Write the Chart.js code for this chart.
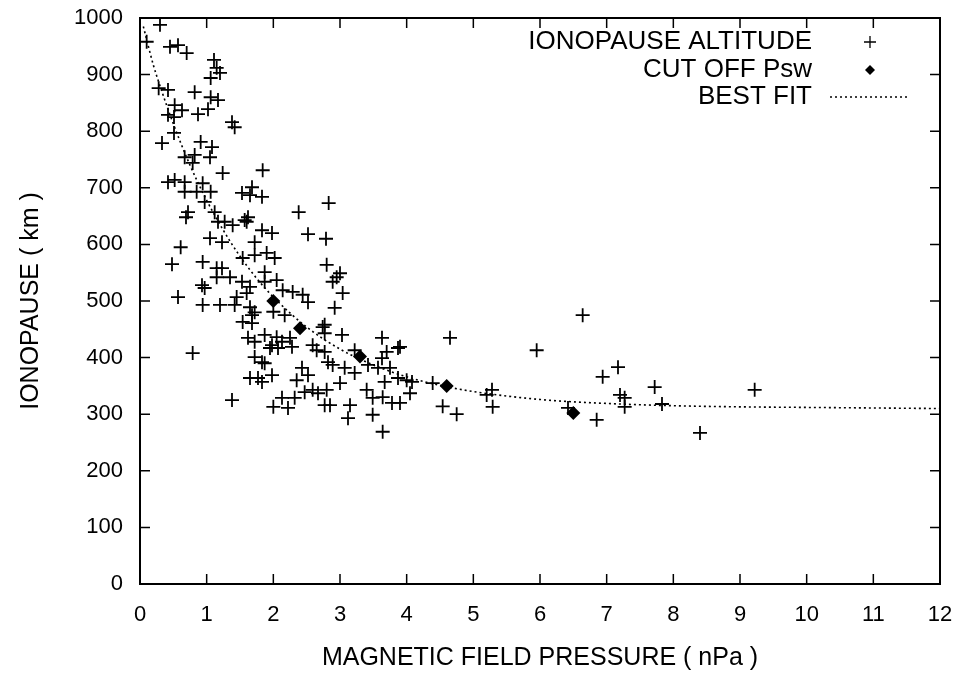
<!DOCTYPE html>
<html>
<head>
<meta charset="utf-8">
<script src="https://cdn.jsdelivr.net/npm/chart.js@4"></script>
<style>
  html, body { margin: 0; padding: 0; background: #fff; }
  canvas { display: block; }
</style>
</head>
<body>
<canvas id="chart" width="967" height="685"></canvas>
<script>
// ionopause altitude (km) vs magnetic field pressure (nPa)
const ionoX = [0.30, 0.10, 0.45, 0.57, 0.70, 1.11, 1.15, 1.20, 1.06, 0.28, 0.42, 0.82, 1.06, 1.17, 0.52, 0.63, 0.42, 0.51, 0.87, 1.02,
  1.38, 1.42, 0.51, 0.33, 0.91, 1.08, 0.67, 0.82, 1.05, 0.79, 1.24, 0.42, 0.52, 0.67, 0.94, 0.67, 0.85, 1.06, 0.97, 0.72,
  0.69, 1.12, 1.17, 1.27, 1.39, 1.60, 1.53, 1.65, 1.68, 1.05, 1.23, 0.61, 0.94, 0.48, 1.15, 1.23, 1.15, 1.35, 1.54, 0.93,
  0.97, 0.57, 1.45, 1.53, 1.65, 0.94, 1.20, 1.42, 1.60, 1.65, 1.72, 1.68, 1.54, 1.68, 1.62, 1.72, 0.79, 1.72, 1.83, 1.65,
  1.77, 1.38, 1.62, 1.83, 1.98, 1.72, 1.72, 1.90, 2.02, 1.87, 1.87, 2.05, 2.14, 2.00, 2.17, 1.87, 2.05, 2.13, 1.98, 1.87,
  1.83, 1.98, 1.84, 1.83, 2.83, 2.38, 1.57, 2.52, 2.79, 2.80, 3.00, 2.95, 2.89, 3.04, 2.29, 2.44, 2.52, 2.92, 2.77, 2.74,
  2.77, 3.03, 3.63, 1.95, 2.07, 2.25, 2.28, 2.59, 2.65, 2.77, 3.22, 3.70, 3.87, 2.82, 2.89, 3.07, 3.22, 3.42, 3.57, 3.63,
  3.75, 2.43, 2.52, 2.35, 3.00, 3.67, 3.87, 2.47, 2.59, 2.67, 2.80, 3.40, 2.13, 2.32, 2.00, 2.22, 2.77, 2.85, 3.15, 3.49,
  3.64, 3.78, 3.90, 3.12, 3.49, 3.64, 3.90, 4.65, 4.00, 4.08, 4.05, 4.39, 4.54, 4.75, 5.20, 5.28, 5.29, 5.95, 6.64, 6.42,
  6.85, 6.94, 7.17, 7.20, 7.27, 7.27, 7.72, 7.83, 8.40, 9.22];
const ionoY = [988, 958, 949, 952, 938, 926, 912, 903, 894, 876, 873, 869, 860, 855, 846, 837, 829, 825, 830, 839,
  816, 807, 797, 779, 781, 772, 754, 758, 754, 744, 726, 710, 714, 710, 708, 693, 693, 693, 675, 657,
  648, 657, 640, 640, 634, 640, 691, 687, 701, 611, 604, 595, 569, 565, 558, 558, 542, 542, 576, 528,
  523, 507, 507, 534, 525, 493, 493, 493, 514, 489, 480, 475, 463, 461, 435, 428, 408, 401, 392, 364,
  364, 325, 648, 625, 620, 604, 581, 585, 576, 551, 534, 537, 519, 481, 475, 440, 436, 428, 422, 390,
  357, 369, 731, 684, 673, 657, 643, 618, 610, 564, 549, 542, 534, 514, 516, 511, 498, 488, 458, 454,
  443, 440, 435, 417, 417, 435, 419, 422, 413, 410, 413, 410, 417, 392, 387, 382, 373, 387, 382, 399,
  382, 382, 369, 360, 355, 357, 364, 339, 343, 337, 343, 343, 329, 329, 313, 311, 316, 316, 316, 329,
  330, 320, 320, 293, 299, 269, 419, 435, 360, 357, 337, 355, 314, 300, 334, 343, 313, 413, 475, 311,
  290, 366, 383, 334, 329, 313, 348, 318, 267, 343];

// cut off solar wind pressure points
const cutX = [2.0, 2.4, 3.3, 4.6, 6.5];
const cutY = [500, 452, 402, 350, 302];

// best fit curve
const fitX = [0.05, 0.2, 0.3, 0.5, 0.75, 1, 1.25, 1.5, 1.75, 2, 2.5, 3, 3.5, 4, 4.5, 5, 6, 7, 8, 9, 10, 11, 12];
const fitY = [985, 917, 880, 813, 740, 678, 625, 579, 540, 507, 454, 415, 387, 366, 351, 340, 326, 319, 315, 313, 312, 311, 310];

const xTicks = [0, 1, 2, 3, 4, 5, 6, 7, 8, 9, 10, 11, 12];
const yTicks = [0, 100, 200, 300, 400, 500, 600, 700, 800, 900, 1000];

const FONT = "'Liberation Sans', Arial, Helvetica, sans-serif";

const toPoints = (xs, ys) => xs.map((x, i) => ({ x: x, y: ys[i] }));

// box round the plot, with inward ticks on all four sides, and the legend inside
const framePlugin = {
    id: 'frame',
    afterDatasetsDraw(chart) {
        const { ctx, chartArea: a, scales } = chart;
        ctx.save();
        ctx.strokeStyle = '#000';
        ctx.lineWidth = 2;
        ctx.strokeRect(a.left, a.top, a.right - a.left, a.bottom - a.top);
        ctx.lineWidth = 1.5;
        const len = 10;
        ctx.beginPath();
        xTicks.forEach(v => {
            const px = scales.x.getPixelForValue(v);
            ctx.moveTo(px, a.bottom); ctx.lineTo(px, a.bottom - len);
            ctx.moveTo(px, a.top); ctx.lineTo(px, a.top + len);
        });
        yTicks.forEach(v => {
            const py = scales.y.getPixelForValue(v);
            ctx.moveTo(a.left, py); ctx.lineTo(a.left + len, py);
            ctx.moveTo(a.right, py); ctx.lineTo(a.right - len, py);
        });
        ctx.stroke();

        // legend
        const textRight = a.right - 128;
        const symX = a.right - 70;
        const rows = [24, 52, 79];
        ctx.font = '26px ' + FONT;
        ctx.fillStyle = '#000';
        ctx.textAlign = 'right';
        ctx.textBaseline = 'middle';
        chart.data.datasets.forEach((ds, i) => {
            const y = a.top + rows[i];
            ctx.fillText(ds.label, textRight, y);
            ctx.lineWidth = 1.3;
            if (i === 0) {
                ctx.beginPath();
                ctx.moveTo(symX - 6, y); ctx.lineTo(symX + 6, y);
                ctx.moveTo(symX, y - 6); ctx.lineTo(symX, y + 6);
                ctx.stroke();
            } else if (i === 1) {
                ctx.beginPath();
                ctx.moveTo(symX, y - 5); ctx.lineTo(symX + 5, y);
                ctx.lineTo(symX, y + 5); ctx.lineTo(symX - 5, y);
                ctx.closePath();
                ctx.fill();
            } else {
                ctx.setLineDash([2, 3]);
                ctx.beginPath();
                ctx.moveTo(symX - 40, y); ctx.lineTo(symX + 40, y);
                ctx.stroke();
                ctx.setLineDash([]);
            }
        });
        ctx.restore();
    }
};

const ctx = document.getElementById('chart').getContext('2d');

new Chart(ctx, {
    type: 'scatter',
    data: {
        datasets: [{
            label: 'IONOPAUSE ALTITUDE',
            data: toPoints(ionoX, ionoY),
            pointStyle: 'cross',
            pointRadius: 7,
            pointBorderWidth: 1.8,
            borderColor: '#000',
            backgroundColor: '#000'
        }, {
            label: 'CUT OFF Psw',
            data: toPoints(cutX, cutY),
            pointStyle: 'rectRot',
            pointRadius: 7,
            pointBorderWidth: 0,
            borderColor: '#000',
            backgroundColor: '#000'
        }, {
            label: 'BEST FIT',
            data: toPoints(fitX, fitY),
            showLine: true,
            pointRadius: 0,
            borderColor: '#000',
            borderWidth: 1.6,
            borderDash: [2, 3],
            cubicInterpolationMode: 'monotone'
        }]
    },
    options: {
        responsive: false,
        animation: false,
        devicePixelRatio: 1,
        layout: { padding: { left: 0, right: 27, top: 18, bottom: 0 } },
        scales: {
            x: {
                type: 'linear',
                min: 0,
                max: 12,
                afterBuildTicks: (scale) => { scale.ticks = xTicks.map(v => ({ value: v })); },
                afterFit: (scale) => {
                    scale.height = 101;
                    scale.paddingLeft = 0;
                    scale.paddingRight = 0;
                },
                grid: { display: false, drawTicks: false },
                border: { display: false },
                ticks: {
                    color: '#000',
                    padding: 18,
                    maxRotation: 0,
                    callback: (v) => String(v),
                    font: { family: FONT, size: 22 }
                },
                title: {
                    display: true,
                    text: 'MAGNETIC FIELD PRESSURE ( nPa )',
                    color: '#000',
                    padding: { top: 0, bottom: 12 },
                    font: { family: FONT, size: 25 }
                }
            },
            y: {
                type: 'linear',
                min: 0,
                max: 1000,
                afterBuildTicks: (scale) => { scale.ticks = yTicks.map(v => ({ value: v })); },
                afterFit: (scale) => {
                    scale.width = 140;
                    scale.paddingTop = 0;
                    scale.paddingBottom = 0;
                },
                grid: { display: false, drawTicks: false },
                border: { display: false },
                ticks: {
                    color: '#000',
                    padding: 17,
                    callback: (v) => String(v),
                    font: { family: FONT, size: 22 }
                },
                title: {
                    display: true,
                    text: 'IONOPAUSE ( km )',
                    color: '#000',
                    padding: { top: 16, bottom: 0 },
                    font: { family: FONT, size: 25 }
                }
            }
        },
        plugins: {
            legend: { display: false },
            tooltip: { enabled: false }
        }
    },
    plugins: [framePlugin]
});
</script>
</body>
</html>
